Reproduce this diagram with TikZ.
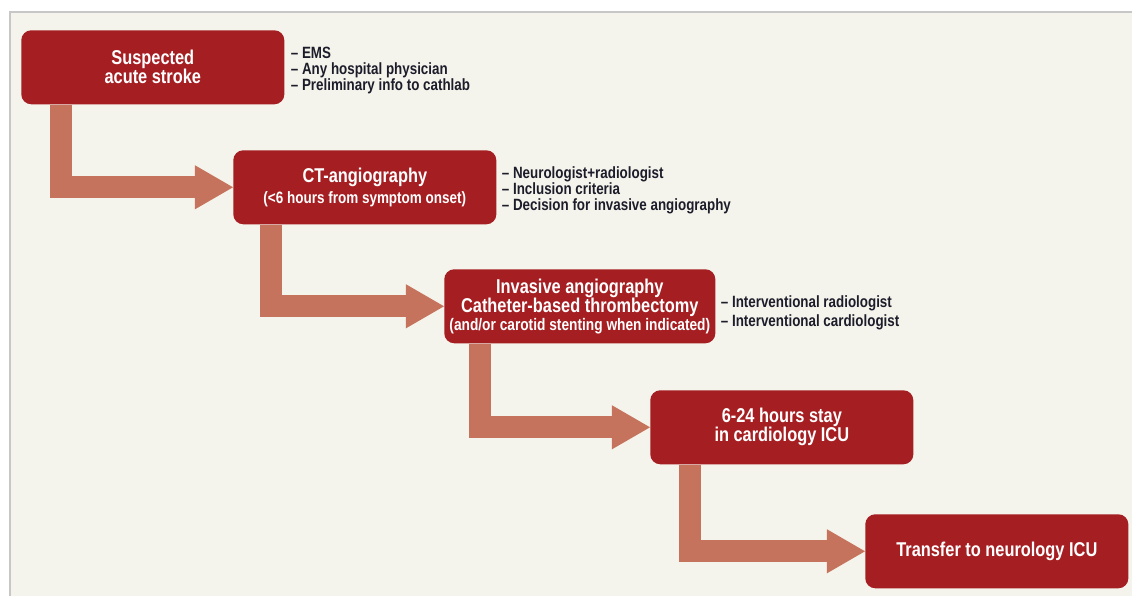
\documentclass[tikz,border=0pt]{standalone}
\usepackage{fontspec}
\setmainfont{Liberation Sans}[FakeStretch=0.82]
\usetikzlibrary{arrows.meta}
\definecolor{boxred}{HTML}{A51E22}
\definecolor{flowred}{HTML}{C5735C}
\definecolor{panel}{HTML}{F5F4EC}
\definecolor{notetext}{HTML}{1C1C2A}
\begin{document}
\begin{tikzpicture}[
        x=0.025cm, y=-0.025cm,
        stage/.style={rectangle, rounded corners=0.25cm, fill=boxred, text=white,
            font=\bfseries\fontsize{14.2}{13.5}\selectfont, align=center,
            minimum width=6.575cm, minimum height=1.85cm, anchor=north west, inner sep=0pt},
        note/.style={anchor=west, align=left, text=notetext, inner sep=0pt,
            font=\bfseries\fontsize{11.6}{11.4}\selectfont},
        flow/.style={draw=flowred, line width=0.55cm,
            -{Triangle[length=0.95cm, width=1.1cm, line width=0pt]}}
    ]
        % Background panel
        \useasboundingbox (0,0) rectangle (1132,596);
        \fill[white] (0,0) rectangle (1132,596);
        \fill[panel] (10,12) rectangle (1132,596);
        \draw[black!22, line width=1.5pt] (10,596) -- (10,12) -- (1132,12);

        % Stages
        \node[stage] (S1) at (21,30) {Suspected\\acute stroke};
        \node[stage] (S2) at (233,150) {CT-angiography\\[1pt]
            {\fontsize{11.7}{12}\selectfont (<6 hours from symptom onset)}};
        \node[stage, minimum width=6.775cm] (S3) at (444,269) {Invasive angiography\\
            Catheter-based thrombectomy\\[-1pt]
            {\fontsize{11.9}{12}\selectfont (and/or carotid stenting when indicated)}};
        \node[stage] (S4) at (650,390) {6-24 hours stay\\in cardiology ICU};
        \node[stage] (S5) at (865,514) {Transfer to neurology ICU};

        % Notes
        \node[note] (N1) at ([xshift=0.15cm,yshift=-0.075cm]S1.east) {-- EMS\\-- Any hospital physician\\-- Preliminary info to cathlab};
        \node[note] (N2) at ([xshift=0.125cm,yshift=-0.075cm]S2.east) {-- Neurologist+radiologist\\-- Inclusion criteria\\-- Decision for invasive angiography};
        \node[note, font=\bfseries\fontsize{11.6}{13.5}\selectfont] (N3) at ([xshift=0.125cm,yshift=-0.17cm]S3.east) {-- Interventional radiologist\\-- Interventional cardiologist};

        % Flow arrows
        \draw[flow] ([xshift=1cm]S1.south west) |- (S2.west);
        \draw[flow] ([xshift=0.95cm]S2.south west) |- (S3.west);
        \draw[flow] ([xshift=0.9cm]S3.south west) |- (S4.west);
        \draw[flow] ([xshift=1cm]S4.south west) |- (S5.west);
    \end{tikzpicture}
\end{document}
